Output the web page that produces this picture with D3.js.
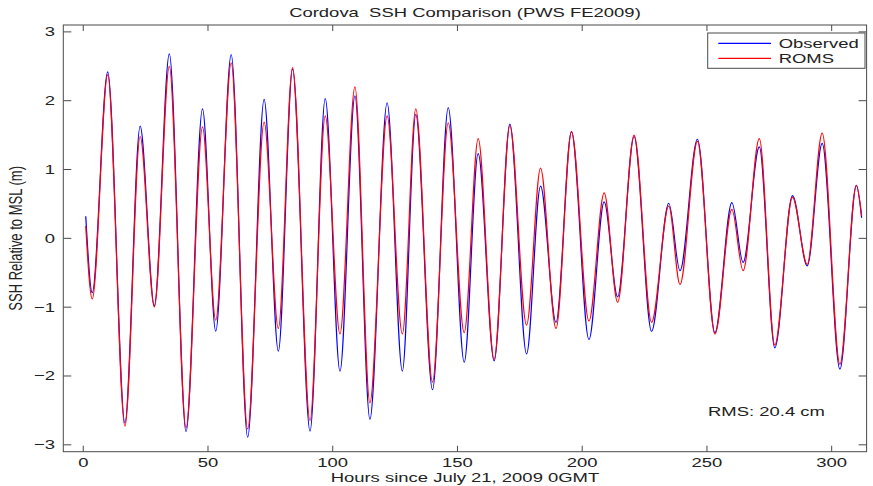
<!DOCTYPE html>
<html>
<head>
<meta charset="utf-8">
<script src="https://cdn.jsdelivr.net/npm/d3@7"></script>
<style>
  body { margin: 0; background: #fff; }
  #chart { width: 873px; height: 486px; }
  text { font-family: "Liberation Sans", Arial, Helvetica, sans-serif; fill: #222; white-space: pre; }
</style>
</head>
<body>
<div id="chart"></div>
<script>
// hours of each high / low water (plus first and last sample)
let hours = [1.0, 3.6, 9.8, 16.7, 22.8, 28.5, 34.5, 41.2, 47.8, 53.1, 59.3, 65.9,
  72.5, 78.2, 83.9, 90.9, 97.0, 102.9, 108.9, 114.9, 121.8, 127.9, 133.3, 140.0,
  146.3, 152.7, 158.3, 164.7, 171.0, 177.7, 183.3, 189.5, 195.7, 202.7, 208.8,
  214.2, 220.8, 227.8, 234.7, 239.2, 246.2, 253.2, 260.0, 264.5, 271.0, 277.2,
  284.3, 290.2, 296.2, 303.3, 309.9, 312.0];

let observed = [0.32, -0.79, 2.42, -2.68, 1.63, -0.98, 2.68, -2.81, 1.88, -1.35, 2.67, -2.89,
  2.02, -1.64, 2.46, -2.80, 2.03, -1.93, 2.07, -2.63, 1.97, -1.93, 1.80, -2.20,
  1.90, -1.80, 1.23, -1.78, 1.66, -1.68, 0.76, -1.22, 1.55, -1.47, 0.53,
  -0.85, 1.48, -1.35, 0.51, -0.47, 1.44, -1.37, 0.52, -0.35, 1.33, -1.59,
  0.62, -0.40, 1.38, -1.90, 0.77, 0.30];

let roms = [0.18, -0.88, 2.38, -2.73, 1.48, -1.00, 2.50, -2.75, 1.62, -1.19, 2.55, -2.77,
  1.69, -1.31, 2.48, -2.65, 1.78, -1.39, 2.20, -2.39, 1.78, -1.39, 1.88, -2.09,
  1.68, -1.37, 1.45, -1.76, 1.64, -1.26, 1.02, -1.31, 1.55, -1.20, 0.66,
  -0.93, 1.50, -1.22, 0.47, -0.67, 1.41, -1.39, 0.42, -0.47, 1.45, -1.55,
  0.60, -0.38, 1.53, -1.83, 0.77, 0.33];

let xTicks = [0, 50, 100, 150, 200, 250, 300];
let yTicks = [-3, -2, -1, 0, 1, 2, 3];
let seriesNames = ['Observed', 'ROMS'];
let seriesColors = ['#0000ff', '#ff0000'];

let buildChart = function() {
  let W = 873, H = 486;
  let box = {left: 63.3, right: 866.6, top: 25, bottom: 451.7};
  let stretch = 1.42; // the picture is wider than tall, text looks pulled sideways
  let axisColor = '#4a4a4a';

  let svg = d3.select('#chart').append('svg')
    .attr('width', W)
    .attr('height', H);

  let x = d3.scaleLinear().domain([-8, 314]).range([box.left, box.right]);
  let y = d3.scaleLinear().domain([-3.1, 3.1]).range([box.bottom, box.top]);

  // helper for horizontal text that is stretched like the original
  let label = function(g, str, px, py, anchor) {
    return g.append('text')
      .attr('transform', `translate(${px},${py}) scale(${stretch},1)`)
      .attr('text-anchor', anchor || 'start')
      .attr('xml:space', 'preserve')
      .style('font-size', '13px')
      .text(str);
  };

  // lines
  let toPoints = vals => hours.map((h, i) => ({h: h, v: vals[i]}));
  let line = d3.line()
    .x(d => x(d.h))
    .y(d => y(d.v))
    .curve(d3.curveMonotoneX);

  [observed, roms].forEach(function(vals, i) {
    svg.append('path')
      .datum(toPoints(vals))
      .attr('fill', 'none')
      .attr('stroke', seriesColors[i])
      .attr('stroke-width', 1.2)
      .attr('stroke-linejoin', 'round')
      .attr('d', line);
  });

  // frame
  svg.append('rect')
    .attr('x', box.left).attr('y', box.top)
    .attr('width', box.right - box.left).attr('height', box.bottom - box.top)
    .attr('fill', 'none').attr('stroke', axisColor).attr('stroke-width', 1);

  // ticks on all four sides, pointing inward (matlab style)
  let axes = svg.append('g').attr('stroke', axisColor).attr('stroke-width', 1);
  xTicks.forEach(function(t) {
    axes.append('line').attr('x1', x(t)).attr('x2', x(t))
      .attr('y1', box.bottom).attr('y2', box.bottom - 6);
    axes.append('line').attr('x1', x(t)).attr('x2', x(t))
      .attr('y1', box.top).attr('y2', box.top + 6);
  });
  yTicks.forEach(function(t) {
    axes.append('line').attr('x1', box.left).attr('x2', box.left + 8)
      .attr('y1', y(t)).attr('y2', y(t));
    axes.append('line').attr('x1', box.right).attr('x2', box.right - 8)
      .attr('y1', y(t)).attr('y2', y(t));
  });

  // tick labels
  xTicks.forEach(function(t) {
    label(svg, d3.format('d')(t), x(t), 467, 'middle');
  });
  yTicks.forEach(function(t) {
    label(svg, t < 0 ? '\u2212' + Math.abs(t) : String(t), 55, y(t) + 4.5, 'end');
  });

  // titles
  label(svg, 'Cordova  SSH Comparison (PWS FE2009)', (box.left + box.right) / 2, 17, 'middle');
  label(svg, 'Hours since July 21, 2009 0GMT', (box.left + box.right) / 2, 481.5, 'middle');
  svg.append('text')
    .attr('transform', `translate(22,${(box.top + box.bottom) / 2}) scale(${stretch},1) rotate(-90)`)
    .attr('text-anchor', 'middle')
    .style('font-size', '13px')
    .text('SSH Relative to MSL (m)');

  label(svg, 'RMS: 20.4 cm', 708, 416, 'start');

  // legend
  let lg = svg.append('g');
  lg.append('rect')
    .attr('x', 707.7).attr('y', 33)
    .attr('width', 157.3).attr('height', 35.3)
    .attr('fill', '#fff').attr('stroke', axisColor).attr('stroke-width', 1);
  seriesNames.forEach(function(name, i) {
    let ly = 43.3 + i * 15;
    lg.append('line')
      .attr('x1', 718.3).attr('x2', 771)
      .attr('y1', ly).attr('y2', ly)
      .attr('stroke', seriesColors[i]).attr('stroke-width', 1.2);
    label(lg, name, 778.7, ly + 4.5, 'start');
  });
};

buildChart();
</script>
</body>
</html>
